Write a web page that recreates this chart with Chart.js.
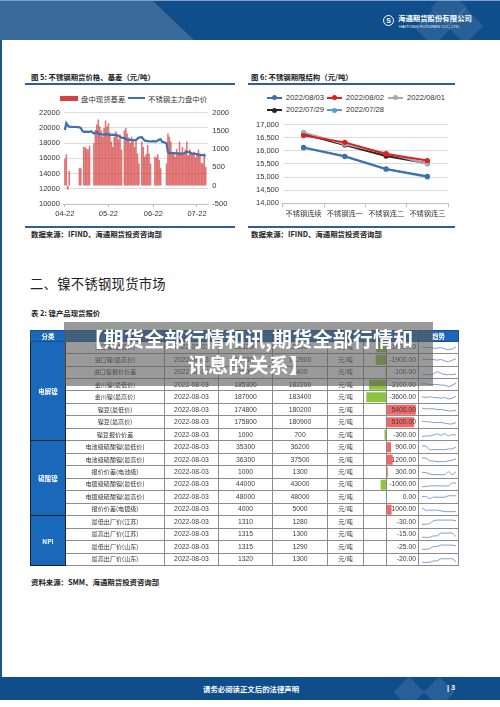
<!DOCTYPE html>
<html lang="zh">
<head>
<meta charset="UTF-8">
<title>镍不锈钢现货市场</title>
<script src="https://cdn.jsdelivr.net/npm/chart.js"></script>
<style>
  body { margin: 0; background: #fff; }
  #page {
    position: relative; width: 500px; height: 707px; overflow: hidden; background: #fff;
    font-family: "Noto Sans CJK SC", "Liberation Sans", sans-serif; color: #222;
  }
  .abs { position: absolute; white-space: nowrap; }
  #hdr { position: absolute; left: 0; top: 0; width: 500px; height: 40px; background: #0f4d8b; overflow: hidden; border-top: 1px solid #7ea2c7; box-sizing: border-box; }
  #hdr .lite { position: absolute; left: 0; top: 0; width: 200px; height: 40px; background: #3a6a9c; clip-path: polygon(0 0, 153px 0, 195px 40px, 0 40px); }
  .dm { position: absolute; width: 26px; height: 26px; background: rgba(255,255,255,0.10); transform: rotate(45deg); }
  .logo-ring { position: absolute; left: 383px; top: 14px; width: 9px; height: 9px; border: 1.3px solid #fff; border-radius: 50%; color: #fff; font: bold 7px "Liberation Sans"; line-height: 9px; text-align: center; }
  .logo-cn { left: 398px; top: 11px; color: #fff; font-size: 7.4px; font-weight: 700; }
  .logo-en { left: 399px; top: 23px; color: #e8eef6; font-size: 4.3px; font-family: "Liberation Sans"; }
  #lborder { position: absolute; left: 0; top: 40px; width: 2px; height: 637px; background: #1b5794; }
  .ttl { font-size: 7.4px; font-weight: 700; color: #222; }
  .rule { position: absolute; height: 2px; background: #2f5f98; }
  .leg { font-size: 7.4px; color: #333; }
  .leg-en { font-size: 7.6px; color: #333; font-family: "Liberation Sans"; }
  .sw-line { position: absolute; height: 2.2px; }
  .sw-dot { position: absolute; width: 5px; height: 5px; border-radius: 50%; }
  canvas { display: block; }
  #c1, #c2 { position: absolute; }
  #sec { left: 30px; top: 274px; font-size: 13.3px; color: #222; letter-spacing: 0.3px; }
  #tbl {
    position: absolute; left: 30px; top: 329.6px; width: 428px; border-collapse: collapse; table-layout: fixed;
    z-index: 2; font-family: "Liberation Sans", "Noto Sans CJK SC", sans-serif; font-size: 6.8px; color: #404040;
    border: 1.2px solid #111;
  }
  #tbl td { padding: 0; border: 1px solid #8c8c8c; text-align: center; white-space: nowrap; overflow: hidden; line-height: 8px; }
  #tbl tr { height: 12.48px; }
  #tbl tr.head { height: 11px; }
  #tbl tr.head td { background: #1a68bb; color: #fff; font-family: "Noto Sans CJK SC"; font-size: 6.5px; font-weight: 700; border-color: #1a4f88; }
  #tbl td.grp { background: #1a68bb; color: #fff; font-family: "Noto Sans CJK SC"; font-size: 6.5px; font-weight: 700; border-color: #222; }
  #tbl td.nm { font-family: "Noto Sans CJK SC"; font-size: 6.1px; color: #333; }
  #tbl td.chg { text-align: right; padding-right: 2px; }
  #tbl td.trend canvas { margin: 0 auto; }
  #bars { position: absolute; left: 363px; top: 340.7px; z-index: 1; }
  #veil {
    position: absolute; left: 64px; top: 322px; width: 369px; height: 64px; z-index: 5;
    background: rgba(92,92,92,0.62); color: #fff; font-weight: 700; font-size: 20px; line-height: 26px;
    text-align: center; padding-top: 4px; box-sizing: border-box; letter-spacing: 0.2px;
  }
  #ftr { position: absolute; left: 0; top: 677px; width: 500px; height: 23px; background: #0f4d8b; overflow: hidden; }
</style>
</head>
<body>
<div id="page">
  <div id="hdr">
    <div class="lite"></div>
    <div class="dm" style="left:436px;top:-6px"></div>
    <div class="dm" style="left:452px;top:12px"></div>
    <div class="dm" style="left:420px;top:14px"></div>
    <div class="logo-ring">S</div>
    <div class="abs logo-cn">海通期货股份有限公司</div>
    <div class="abs logo-en">HAITONG FUTURES CO., LTD.</div>
  </div>
  <div id="lborder"></div>

  <!-- figure 5 -->
  <div class="abs ttl" style="left:31px;top:71px">图 5: 不锈钢期货价格、基差（元/吨）</div>
  <div class="rule" style="left:25px;top:83px;width:210px"></div>
  <div class="abs" style="left:60px;top:96px;width:18px;height:5px;background:#d94040"></div>
  <div class="abs leg" style="left:81px;top:93px">盘中现货基差</div>
  <div class="sw-line" style="left:128px;top:97.3px;width:17px;background:#3a72b0"></div>
  <div class="abs leg" style="left:148px;top:93px">不锈钢主力盘中价</div>
  <canvas id="c1" width="198" height="116" style="left:35px;top:104px"></canvas>
  <div class="rule" style="left:25px;top:225.5px;width:210px"></div>
  <div class="abs ttl" style="left:31px;top:228px">数据来源：IFIND、海通期货投资咨询部</div>

  <!-- figure 6 -->
  <div class="abs ttl" style="left:251px;top:71px">图 6: 不锈钢期限结构（元/吨）</div>
  <div class="rule" style="left:248px;top:83px;width:207px"></div>
  <div id="leg2"></div>
  <canvas id="c2" width="200" height="104" style="left:252px;top:116px"></canvas>
  <div class="rule" style="left:248px;top:225.5px;width:207px"></div>
  <div class="abs ttl" style="left:251px;top:228px">数据来源：IFIND、海通期货投资咨询部</div>

  <div id="sec" class="abs">二、镍不锈钢现货市场</div>
  <div class="abs ttl" style="left:31px;top:307px">表 2: 镍产品现货报价</div>

  <table id="tbl">
    <colgroup>
      <col style="width:35px"><col style="width:99px"><col style="width:54px"><col style="width:54px"><col style="width:55px">
      <col style="width:36px"><col style="width:23px"><col style="width:32px"><col style="width:40px">
    </colgroup>
    <tbody id="tbody">
      <tr class="head"><td>分类</td><td></td><td></td><td></td><td></td><td></td><td></td><td></td><td>趋势</td></tr>
    </tbody>
  </table>
  <canvas id="bars" width="55" height="225"></canvas>

  <div id="veil">【期货全部行情和讯,期货全部行情和<br>讯息的关系】</div>

  <div class="abs ttl" style="left:31px;top:576px">资料来源：SMM、海通期货投资咨询部</div>

  <div id="ftr">
    <div class="dm" style="left:398px;top:4px;width:22px;height:22px"></div>
    <div class="dm" style="left:428px;top:4px;width:22px;height:22px"></div>
    <div class="abs" style="left:203px;top:6px;color:#fff;font-size:7.4px;font-weight:700">请务必阅读正文后的法律声明</div>
    <div class="abs" style="left:447px;top:6px;color:#fff;font-size:7.4px;font-family:'Liberation Sans';font-weight:700">| 3</div>
  </div>
</div>

<script>
  // ---- 图5: 不锈钢期货价格、基差 (x = days since 2022-04-22)
  const basisDays = [0, 1, 2, 3, 10, 11, 13, 14, 15, 16, 17,
    20, 21, 22, 23, 24, 25, 26, 27, 28, 29, 30, 31, 32, 33, 34, 35, 36, 37, 38, 39,
    41, 42, 43, 44, 45, 46, 47, 48, 49, 50, 51,
    53, 54, 55, 56, 57, 58, 59, 62, 63, 64, 65, 66,
    70, 71, 72, 73, 74, 75, 76, 77, 78, 79, 80, 81, 82, 83, 84, 85, 86, 87, 88, 89, 90, 91, 92, 93, 94, 95, 96, 97];
  const basisValues = [730, 850, -100, 390, 470, 470, 1055, 1040, 1000, 980, 1080,
    1150, 1520, 1660, 1800, 1610, 1500, 1330, 1570, 1770, 1610, 1700, 1450, 1200, 1050, 1330, 1480, 1420, 1250, 1380, 980,
    1500, 1570, 1420, 1310, 1150, 1330, 1200, 1050, 1240, 870, 600,
    1200, 1050, 780, 850, 1100, 870, 600, 780, 760, 850, 690, 470,
    600, 1420, 1330, 1200, 870, 850, 780, 1000, 870, 1200, 880, 1050, 870, 980, 1200, 820, 980, 920, 870, 920, 760, 880, 980, 880, 620, 600, 870, 500];
  const priceDays = [0, 1, 2, 3, 5, 8, 10, 11, 12, 13, 15, 17, 18, 20, 21, 22, 23, 25, 27, 29, 31, 33, 35, 37, 39,
    41, 43, 45, 47, 49, 51, 53, 55, 57, 59, 61, 63, 65, 66, 67, 69, 70, 71, 72, 74, 76, 78, 80, 82, 84, 86, 87, 89, 91, 93, 95, 97];
  const priceValues = [19700, 20600, 20300, 20150, 20100, 20100, 20050, 19950, 19600, 19450, 19500, 19450, 19550, 19250, 19300, 19450, 19200, 19150, 19100, 19150, 19050, 19100, 19050, 18950, 18700,
    18650, 18450, 18400, 18350, 18400, 18700, 18750, 18300, 18250, 18200, 18250, 18200, 18450, 18500, 18150, 18050, 17950, 16800, 16650, 16700, 16650, 16650, 16600, 16650, 16850, 16800, 16600, 16600, 16550, 16400, 16400, 16350];
  const monthTicks = ['04-22', '05-22', '06-22', '07-22'];

  // ---- 图6: 不锈钢期限结构
  const termLabels = ['不锈钢连续', '不锈钢连一', '不锈钢连二', '不锈钢连三'];
  const termDates = ['2022/08/03', '2022/08/02', '2022/08/01', '2022/07/29', '2022/07/28'];
  const term0803 = [16130, 15790, 15310, 15030];
  const term0802 = [16580, 16320, 15880, 15630];
  const term0801 = [16700, 16250, 15910, 15500];
  const term0729 = [16640, 16220, 15800, 15530];
  const term0728 = [16110, 15780, 15300, 15000];
  const termColors = ['#3e70ae', '#e21f1f', '#a9a9a9', '#262626', '#5b9bd5'];

  // ---- 表2: 镍产品现货报价
  const groupNames = ['电解镍', '硫酸镍', 'NPI'];
  const groupSizes = [8, 6, 4];
  const itemNames = ['进口镍(最低价)', '进口镍(最高价)', '进口镍报价价差', '金川镍(最低价)', '金川镍(最高价)', '镍豆(最低价)', '镍豆(最高价)', '镍豆报价价差',
    '电池级硫酸镍(最低价)', '电池级硫酸镍(最高价)', '报价价差(电池级)', '电镀级硫酸镍(最低价)', '电镀级硫酸镍(最高价)', '报价价差(电镀级)',
    '最低出厂价(江苏)', '最高出厂价(江苏)', '最低出厂价(山东)', '最高出厂价(山东)'];
  const quoteDate = '2022-08-03';
  const prevPrices = [183300, 184800, 1500, 185300, 187000, 174800, 175800, 1000, 35300, 36300, 1000, 44000, 48000, 4000, 1310, 1315, 1315, 1320];
  const lastPrices = [181500, 182900, 1400, 182200, 183400, 180200, 180900, 700, 36200, 37500, 1300, 43000, 48000, 5000, 1280, 1300, 1290, 1300];
  const changes = [-1800, -1900, -100, -3100, -3600, 5400, 5100, -300, 900, 1200, 300, -1000, 0, 1000, -30, -15, -25, -20];
  const trendLines = [
    [6, 5, 5, 4, 4, 5, 3, 2, 3, 6],
    [6, 5, 5, 5, 4, 5, 3, 2, 4, 6],
    [2, 2, 2, 3, 6, 4, 2, 2, 2, 3],
    [6, 6, 5, 5, 5, 4, 4, 2, 4, 7],
    [6, 5, 6, 5, 5, 4, 5, 3, 4, 7],
    [7, 6, 6, 6, 5, 5, 4, 3, 3, 4],
    [7, 6, 6, 5, 5, 5, 4, 3, 3, 5],
    [2, 3, 3, 4, 6, 4, 6, 3, 5, 4],
    [7, 7, 2, 2, 2, 2, 2, 3, 3, 6],
    [7, 7, 3, 3, 2, 2, 2, 3, 4, 6],
    [5, 5, 3, 2, 2, 2, 2, 6, 2, 6],
    [2, 2, 3, 3, 3, 3, 3, 3, 7, 7],
    [5, 5, 2, 4, 4, 4, 4, 6, 6, 6],
    [7, 4, 4, 4, 4, 3, 2, 2, 2, 2],
    [1, 1, 2, 6, 7, 7, 7, 7, 7, 6],
    [1, 1, 1, 3, 3, 7, 7, 7, 7, 2],
    [1, 1, 2, 5, 5, 7, 7, 7, 7, 6],
    [1, 1, 1, 3, 3, 6, 6, 6, 6, 2]
  ];

  Chart.defaults.font.family = '"Liberation Sans", "Noto Sans CJK SC", sans-serif';
  Chart.defaults.font.size = 7.5;
  Chart.defaults.color = '#333';

  const dayOf = s => Math.round((new Date('2022-' + s) - new Date('2022-04-22')) / 86400000);
  const tickDays = monthTicks.map(dayOf);

  new Chart(document.getElementById('c1'), {
    data: {
      datasets: [
        {
          type: 'line', label: '不锈钢主力盘中价', yAxisID: 'y', order: 0,
          data: priceDays.map((d, i) => ({ x: d, y: priceValues[i] })),
          borderColor: '#3a72b0', borderWidth: 2.2, pointRadius: 0, tension: 0
        },
        {
          type: 'bar', label: '盘中现货基差', yAxisID: 'y1', order: 1,
          data: basisDays.map((d, i) => ({ x: d, y: basisValues[i] })),
          backgroundColor: 'rgba(212,60,60,0.72)', barThickness: 0.9
        }
      ]
    },
    options: {
      responsive: false, animation: false, events: [],
      layout: { padding: 0 },
      plugins: { legend: { display: false }, tooltip: { enabled: false } },
      scales: {
        x: {
          type: 'linear', min: -0.7, max: 98.8, offset: false,
          afterBuildTicks: axis => { axis.ticks = tickDays.map(v => ({ value: v })); },
          ticks: { autoSkip: false, maxRotation: 0, padding: 2, callback: v => monthTicks[tickDays.indexOf(v)] },
          grid: { offset: false, drawOnChartArea: false, tickLength: 3, color: '#bfbfbf' },
          border: { color: '#bfbfbf' }
        },
        y: {
          position: 'left', min: 10000, max: 22000,
          ticks: { stepSize: 2000, padding: 4, callback: v => String(v) },
          grid: { color: '#dcdcdc', drawTicks: false },
          border: { display: false }
        },
        y1: {
          position: 'right', min: -500, max: 2000,
          ticks: { stepSize: 500, padding: 4, callback: v => String(v) },
          grid: { drawOnChartArea: false, drawTicks: false },
          border: { display: false }
        }
      }
    }
  });

  // legend for 图6
  const termSeries = [term0803, term0802, term0801, term0729, term0728];
  const legPos = [[267, 97.7], [327, 97.7], [388, 97.7], [267, 110], [327, 110]];
  const leg2 = document.getElementById('leg2');
  termDates.forEach((d, i) => {
    const [lx, ly] = legPos[i];
    leg2.insertAdjacentHTML('beforeend',
      `<div class="sw-line" style="left:${lx}px;top:${ly - 1.1}px;width:15px;background:${termColors[i]}"></div>` +
      `<div class="sw-dot" style="left:${lx + 5}px;top:${ly - 2.5}px;background:${termColors[i]}"></div>` +
      `<div class="abs leg-en" style="left:${lx + 19}px;top:${ly - 4.6}px">${d}</div>`);
  });

  new Chart(document.getElementById('c2'), {
    type: 'line',
    data: {
      labels: termLabels,
      datasets: termSeries.map((s, i) => ({
        label: termDates[i], data: s,
        borderColor: termColors[i], backgroundColor: termColors[i],
        borderWidth: 2, pointRadius: 2.6, pointBorderWidth: 0, tension: 0
      }))
    },
    options: {
      responsive: false, animation: false, events: [],
      layout: { padding: { top: 2, right: 2 } },
      plugins: { legend: { display: false }, tooltip: { enabled: false } },
      scales: {
        x: {
          offset: true,
          grid: { offset: true, drawOnChartArea: false, tickLength: 4, color: '#bfbfbf' },
          border: { color: '#bfbfbf' },
          ticks: { padding: 2, maxRotation: 0, minRotation: 0, autoSkip: false, font: { family: '"Noto Sans CJK SC"', size: 7.2 } }
        },
        y: {
          min: 14000, max: 17000,
          ticks: { stepSize: 500, padding: 4, callback: v => v.toLocaleString('en-US') },
          grid: { color: '#dcdcdc', drawTicks: false },
          border: { display: false }
        }
      }
    }
  });

  // table rows
  const tbody = document.getElementById('tbody');
  const groupAt = {};
  let start = 0;
  groupNames.forEach((g, k) => { groupAt[start] = [g, groupSizes[k]]; start += groupSizes[k]; });
  itemNames.forEach((name, i) => {
    const tr = document.createElement('tr');
    let html = '';
    if (groupAt[i]) html += `<td class="grp" rowspan="${groupAt[i][1]}">${groupAt[i][0]}</td>`;
    html += `<td class="nm">${name}</td><td>${quoteDate}</td><td>${prevPrices[i]}</td><td>${lastPrices[i]}</td>` +
      `<td class="nm">元/吨</td><td></td><td class="chg">${changes[i].toFixed(2)}</td>` +
      `<td class="trend"><canvas id="tr${i}" width="36" height="9"></canvas></td>`;
    tr.innerHTML = html;
    tbody.appendChild(tr);
  });

  // data bars of the change column
  new Chart(document.getElementById('bars'), {
    type: 'bar',
    data: {
      labels: itemNames,
      datasets: [{
        data: changes,
        backgroundColor: changes.map(v => v < 0 ? '#8cc63f' : '#f06767'),
        barPercentage: 0.8, categoryPercentage: 1
      }]
    },
    options: {
      indexAxis: 'y', responsive: false, animation: false, events: [],
      layout: { padding: 0 },
      plugins: { legend: { display: false }, tooltip: { enabled: false } },
      scales: {
        x: { display: false, min: -4200, max: 5800 },
        y: { display: false }
      }
    }
  });

  // sparklines
  trendLines.forEach((pts, i) => {
    new Chart(document.getElementById('tr' + i), {
      type: 'line',
      data: { labels: pts.map((_, k) => k), datasets: [{ data: pts, borderColor: '#6f93bd', borderWidth: 0.9, pointRadius: 0, tension: 0.3 }] },
      options: {
        responsive: false, animation: false, events: [],
        layout: { padding: 1 },
        plugins: { legend: { display: false }, tooltip: { enabled: false } },
        scales: { x: { display: false }, y: { display: false } }
      }
    });
  });
</script>
</body>
</html>
